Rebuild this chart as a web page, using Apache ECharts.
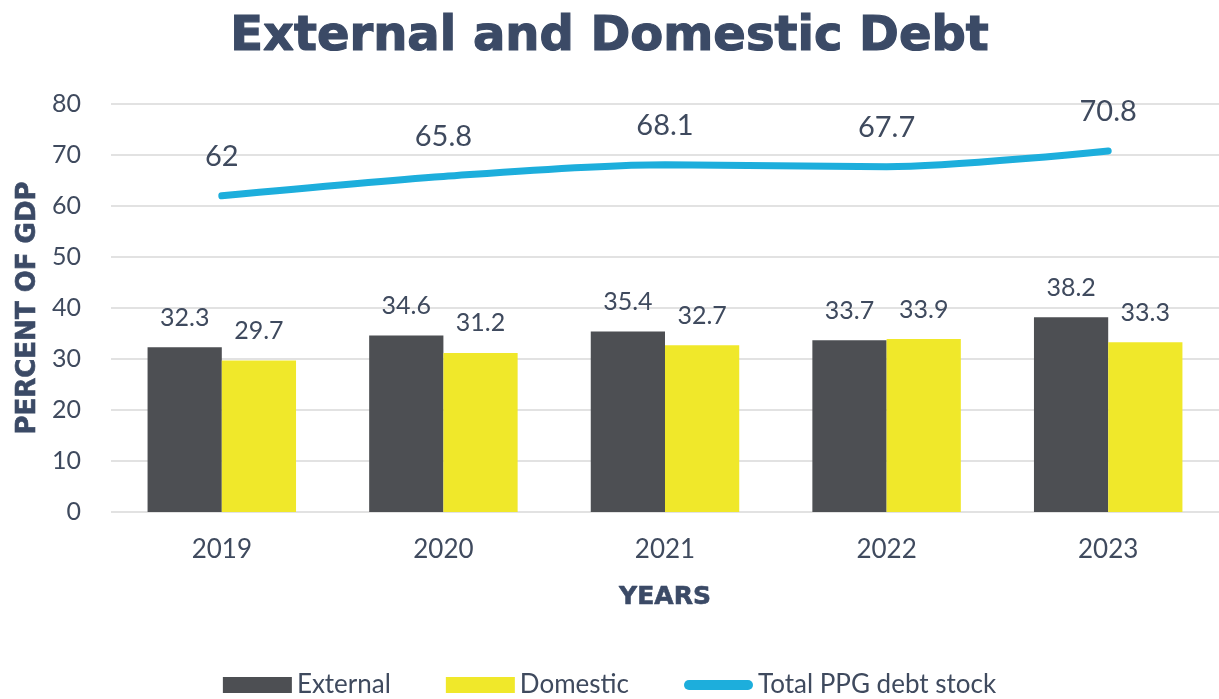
<!DOCTYPE html>
<html><head><meta charset="utf-8">
<script src="https://cdn.jsdelivr.net/npm/echarts@6/dist/echarts.min.js"></script>
<style>html,body{margin:0;padding:0;background:#fff;}#c{width:1219px;height:699px;}</style>
</head><body><div id="c"></div>
<script>
var categories = ['2019', '2020', '2021', '2022', '2023'];
var externalDebt = [32.3, 34.6, 35.4, 33.7, 38.2];
var domesticDebt = [29.7, 31.2, 32.7, 33.9, 33.3];
var totalDebt = [62, 65.8, 68.1, 67.7, 70.8];
var yTicks = {min: 0, max: 80, interval: 10};

var txt = '#3F4A5E';
var head = '#3B4A66';
var body = 'Lato, "Open Sans", sans-serif';
var lineColor = '#1DAEDC';
var chart = echarts.init(document.getElementById('c'));
chart.setOption({
  backgroundColor: '#ffffff',
  title: {text: 'External and Domestic Debt', left: 'center', top: 9,
    textStyle: {fontFamily: '"DejaVu Sans"', fontWeight: 'bold', fontSize: 48, color: head,
      textBorderColor: head, textBorderWidth: 1.2}},
  grid: {left: 111, top: 104, width: 1110, height: 408, containLabel: false},
  legend: {top: 667, left: 'center', itemWidth: 69, itemHeight: 16, itemGap: 55, symbolKeepAspect: true,
    textStyle: {fontFamily: body, fontSize: 26, color: txt, padding: [0, 0, 0, 0]},
    data: [{name: 'External', icon: 'rect'}, {name: 'Domestic', icon: 'rect'},
      {name: 'Total PPG debt stock', icon: 'path://M5,0 L64,0 A5,5 0 0 1 64,10 L5,10 A5,5 0 0 1 5,0 Z',
        itemStyle: {color: lineColor}}]},
  xAxis: {type: 'category', data: categories,
    axisLine: {show: false}, axisTick: {show: false},
    axisLabel: {margin: 25, fontFamily: body, fontSize: 26, color: txt},
    name: 'YEARS', nameLocation: 'middle', nameGap: 73,
    nameTextStyle: {fontFamily: '"DejaVu Sans"', fontWeight: 'bold', fontSize: 25, color: head,
      textBorderColor: head, textBorderWidth: 0.6}},
  yAxis: {type: 'value', min: yTicks.min, max: yTicks.max, interval: yTicks.interval,
    axisLabel: {margin: 30, fontFamily: body, fontSize: 25, color: txt},
    splitLine: {lineStyle: {color: '#D9D9D9', width: 1.5}},
    name: 'PERCENT OF GDP', nameLocation: 'middle', nameGap: 69,
    nameTextStyle: {fontFamily: '"DejaVu Sans"', fontWeight: 'bold', fontSize: 26, color: head,
      textBorderColor: head, textBorderWidth: 0.6}},
  series: [
    {name: 'External', type: 'bar', data: externalDebt, barGap: '0%', barCategoryGap: '33%',
      itemStyle: {color: '#4D4F53'},
      label: {show: true, position: 'top', distance: 17, fontFamily: body, fontSize: 25, color: txt}},
    {name: 'Domestic', type: 'bar', data: domesticDebt, barGap: '0%', barCategoryGap: '33%',
      itemStyle: {color: '#F0E82A'},
      label: {show: true, position: 'top', distance: 17, fontFamily: body, fontSize: 25, color: txt}},
    {name: 'Total PPG debt stock', type: 'line', data: totalDebt, smooth: 0.3,
      symbol: 'circle', symbolSize: 2, showSymbol: true,
      lineStyle: {color: lineColor, width: 7, cap: 'round'}, itemStyle: {color: lineColor},
      label: {show: true, position: 'top', distance: 24, fontFamily: body, fontSize: 29, color: txt}}
  ]
});
</script></body></html>
